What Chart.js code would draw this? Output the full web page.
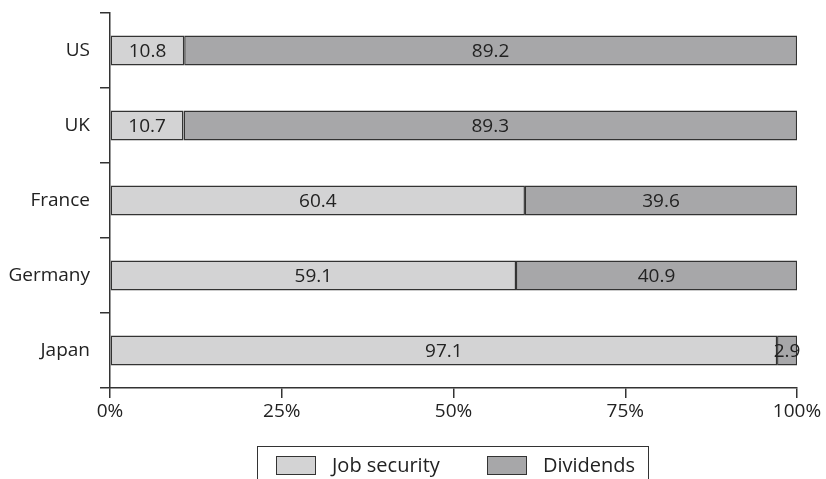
<!DOCTYPE html>
<html lang="en">
  <head>
    <meta charset="UTF-8">
    <title>Job security vs dividends</title>
    <style>
      html, body { margin: 0; padding: 0; background: #fff; overflow: hidden; }
      .wrap { position: relative; width: 826px; height: 479px; }
      #legend {
        position: absolute; left: 257px; top: 446px; width: 392px; height: 60px;
        border: 1.5px solid #333; box-sizing: border-box;
        font-family: "Open Sans", sans-serif; font-size: 20px; color: #222;
      }
      #legend .item { position: absolute; top: 5px; display: flex; align-items: center; line-height: 26px; }
      #legend .swatch { width: 40px; height: 19px; border: 1.5px solid #333; box-sizing: border-box; margin-right: 16px; }
    </style>
  </head>
  <body>
    <div class="wrap">
      <canvas id="myChart" width="826" height="479"></canvas>
      <div id="legend"></div>
    </div>

    <script src="https://cdn.jsdelivr.net/npm/chart.js"></script>

    <script>
      const countries = ['US', 'UK', 'France', 'Germany', 'Japan'];
      const jobSecurity = [10.8, 10.7, 60.4, 59.1, 97.1];
      const dividends = [89.2, 89.3, 39.6, 40.9, 2.9];
      const seriesNames = ['Job security', 'Dividends'];
      const seriesColors = ['#d3d3d4', '#a7a7a9'];
      const percentTicks = [0, 25, 50, 75, 100];

      const fontFamily = '"Open Sans", sans-serif';
      const ink = '#333';

      // write each segment's value in the middle of it
      const valueLabels = {
        id: 'valueLabels',
        afterDatasetsDraw(chart) {
          const c = chart.ctx;
          c.save();
          c.font = '19px ' + fontFamily;
          c.fillStyle = '#222';
          c.textAlign = 'center';
          c.textBaseline = 'middle';
          chart.data.datasets.forEach((ds, i) => {
            chart.getDatasetMeta(i).data.forEach((bar, j) => {
              const p = bar.getCenterPoint();
              c.fillText(ds.data[j].toFixed(1), p.x, p.y + 1);
            });
          });
          c.restore();
        }
      };

      const ctx = document.getElementById('myChart');

      new Chart(ctx, {
        type: 'bar',
        data: {
          labels: countries,
          datasets: [
            { label: seriesNames[0], data: jobSecurity, backgroundColor: seriesColors[0] },
            { label: seriesNames[1], data: dividends, backgroundColor: seriesColors[1] }
          ]
        },
        options: {
          indexAxis: 'y',
          responsive: false,
          animation: false,
          layout: { padding: { top: 13, right: 29, left: 0, bottom: 0 } },
          datasets: {
            bar: {
              barPercentage: 0.4,
              categoryPercentage: 1,
              borderColor: ink,
              borderWidth: 1.5,
              borderSkipped: false
            }
          },
          plugins: {
            legend: { display: false },
            tooltip: { enabled: false }
          },
          scales: {
            x: {
              stacked: true,
              min: 0,
              max: 100,
              afterBuildTicks: (scale) => { scale.ticks = percentTicks.map(v => ({ value: v })); },
              afterFit: (scale) => { scale.height = 91; },
              border: { display: true, color: ink, width: 1.5 },
              grid: { drawOnChartArea: false, drawTicks: true, tickLength: 10, color: ink, lineWidth: 1.5 },
              ticks: {
                padding: 2,
                color: '#222',
                font: { family: fontFamily, size: 19 },
                callback: (v) => v + '%'
              }
            },
            y: {
              stacked: true,
              afterFit: (scale) => {
                scale.width = 110;
                scale.paddingTop = 0;
                scale.paddingBottom = 0;
              },
              border: { display: true, color: ink, width: 1.5 },
              grid: { offset: true, drawOnChartArea: false, drawTicks: true, tickLength: 10, color: ink, lineWidth: 1.5 },
              ticks: {
                padding: 10,
                color: '#222',
                font: { family: fontFamily, size: 19 }
              }
            }
          }
        },
        plugins: [valueLabels]
      });

      // boxed legend under the axis
      const legend = document.getElementById('legend');
      const itemLeft = [18, 229];
      seriesNames.forEach((name, i) => {
        const item = document.createElement('div');
        item.className = 'item';
        item.style.left = itemLeft[i] + 'px';
        const sw = document.createElement('span');
        sw.className = 'swatch';
        sw.style.background = seriesColors[i];
        const txt = document.createElement('span');
        txt.textContent = name;
        item.appendChild(sw);
        item.appendChild(txt);
        legend.appendChild(item);
      });
    </script>
  </body>
</html>
